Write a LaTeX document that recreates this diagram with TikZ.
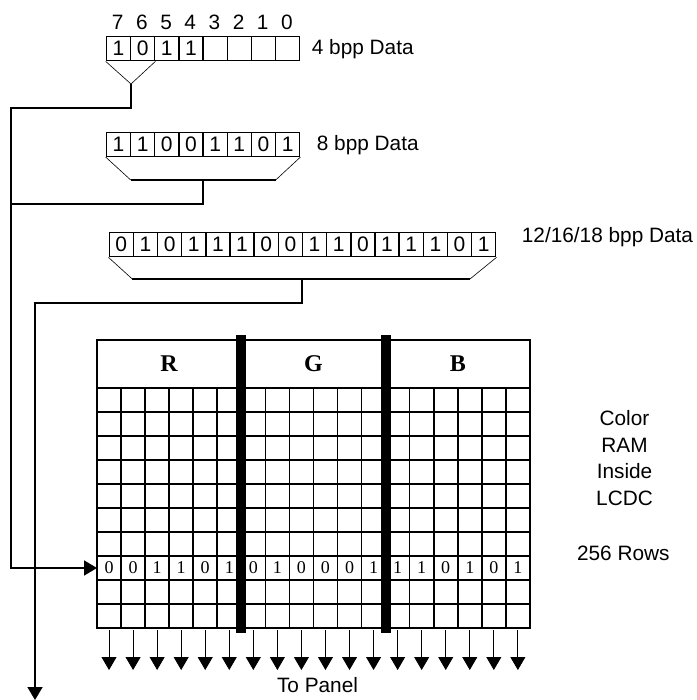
\documentclass[tikz,border=0pt]{standalone}
\usepackage{fontspec}
\setmainfont{Liberation Serif}
\setsansfont{Liberation Sans}
\usetikzlibrary{arrows.meta}
\begin{document}
\begin{tikzpicture}[x=1pt,y=-1pt,
  bit/.style={draw, line width=1.4pt, minimum width=24.16pt, minimum height=24pt, inner sep=0pt, anchor=north west, font=\sffamily\fontsize{21}{21}\selectfont},
  lbl/.style={inner sep=0pt, font=\sffamily\fontsize{20.8}{26.7}\selectfont},
  conn/.style={line width=1.7pt},
  thinl/.style={line width=0.6pt},
  tip/.style={-{Triangle[width=15pt,length=13pt]}},
  gridl/.style={line width=1.6pt},
  val/.style={inner sep=0pt, font=\rmfamily\fontsize{18}{18}\selectfont},
  hdr/.style={inner sep=0pt, font=\rmfamily\bfseries\fontsize{24}{24}\selectfont},
  outarrow/.style={line width=0.8pt, -{Triangle[width=15pt,length=13pt]}},
  bar/.style={fill=black}
]
\useasboundingbox (0,0) rectangle (696,700);

% ---- 4 bpp ----
\foreach \v [count=\i from 0] in {1,0,1,1}
  \node[bit] (a\i) at ({105.7+\i*24.16},36) {\v};
\foreach \i in {4,...,7}
  \node[bit] (a\i) at ({105.7+\i*24.16},36) {};
\foreach \v [count=\i from 0] in {7,6,5,4,3,2,1,0}
  \node[lbl] (n\i) at ({117.78+\i*24.16},22) {\v};
\node[lbl, anchor=base west] (d4) at (311.7,55) {4 bpp Data};
\coordinate (apx4) at (131,84);
\draw[thinl] (a0.south west) -- (apx4) -- (a1.south east);

% ---- 8 bpp ----
\foreach \v [count=\i from 0] in {1,1,0,0,1,1,0,1}
  \node[bit] (b\i) at ({105.7+\i*24.16},131.7) {\v};
\node[lbl, anchor=base west] (d8) at (316.7,150.7) {8 bpp Data};
\coordinate (t8l) at (130.7,180);
\coordinate (t8r) at (275.7,180);
\coordinate (t8m) at (203.3,180);
\draw[thinl] (b0.south west) -- (t8l);
\draw[thinl] (b7.south east) -- (t8r);
\draw[conn] (t8l) -- (t8r);

% ---- 12/16/18 bpp ----
\foreach \v [count=\i from 0] in {0,1,0,1,1,1,0,0,1,1,0,1,1,1,0,1}
  \node[bit] (c\i) at ({108.5+\i*24.16},232) {\v};
\node[lbl, anchor=base west] (d16) at (521.7,242.3) {12/16/18 bpp Data};
\coordinate (t16l) at (132.3,279);
\coordinate (t16r) at (470,279);
\coordinate (t16m) at (301.7,279);
\draw[thinl] (c0.south west) -- (t16l);
\draw[thinl] (c15.south east) -- (t16r);
\draw[conn] (t16l) -- (t16r);

% ---- connectors ----
\coordinate (l4) at (11,108);
\coordinate (l8) at (11,204);
\coordinate (lrow) at (11,568);
\coordinate (gin) at (97,568);
\coordinate (l16) at (35,303.3);
\coordinate (l16e) at (35,700);
\draw[conn, tip] (apx4) |- (l4) -- (lrow) -- (gin);
\draw[conn] (t8m) |- (l8);
\draw[conn, tip] (t16m) |- (l16) -- (l16e);

% ---- Color RAM grid ----
\draw[gridl] (97,340) rectangle (529.9,628);
\foreach \k in {0,...,9}
  \draw[gridl] (97,{388+\k*24}) -- (529.9,{388+\k*24});
\foreach \k in {1,...,17}
  \draw[gridl] ({97+\k*24.05},388) -- ({97+\k*24.05},628);
\fill[bar] (236.3,335) rectangle (246.3,633);
\fill[bar] (380.6,335) rectangle (390.6,633);
\node[hdr] (hR) at (169.15,364) {R};
\node[hdr] (hG) at (313.45,364) {G};
\node[hdr] (hB) at (457.75,364) {B};
\foreach \v [count=\i from 0] in {0,0,1,1,0,1,0,1,0,0,0,1,1,1,0,1,0,1}
  \node[val] (v\i) at ({109.02+\i*24.05},568) {\v};
\foreach \i in {0,...,17}
  \draw[outarrow] (v\i |- 0,630) -- (v\i |- 0,670);

% ---- labels ----
\node[lbl, align=center] (ram) at (624.5,458) {Color\\RAM\\Inside\\LCDC};
\node[lbl] (rows) at (623.3,553) {256 Rows};
\node[lbl] (panel) at (317.5,685) {To Panel};
\end{tikzpicture}
\end{document}
